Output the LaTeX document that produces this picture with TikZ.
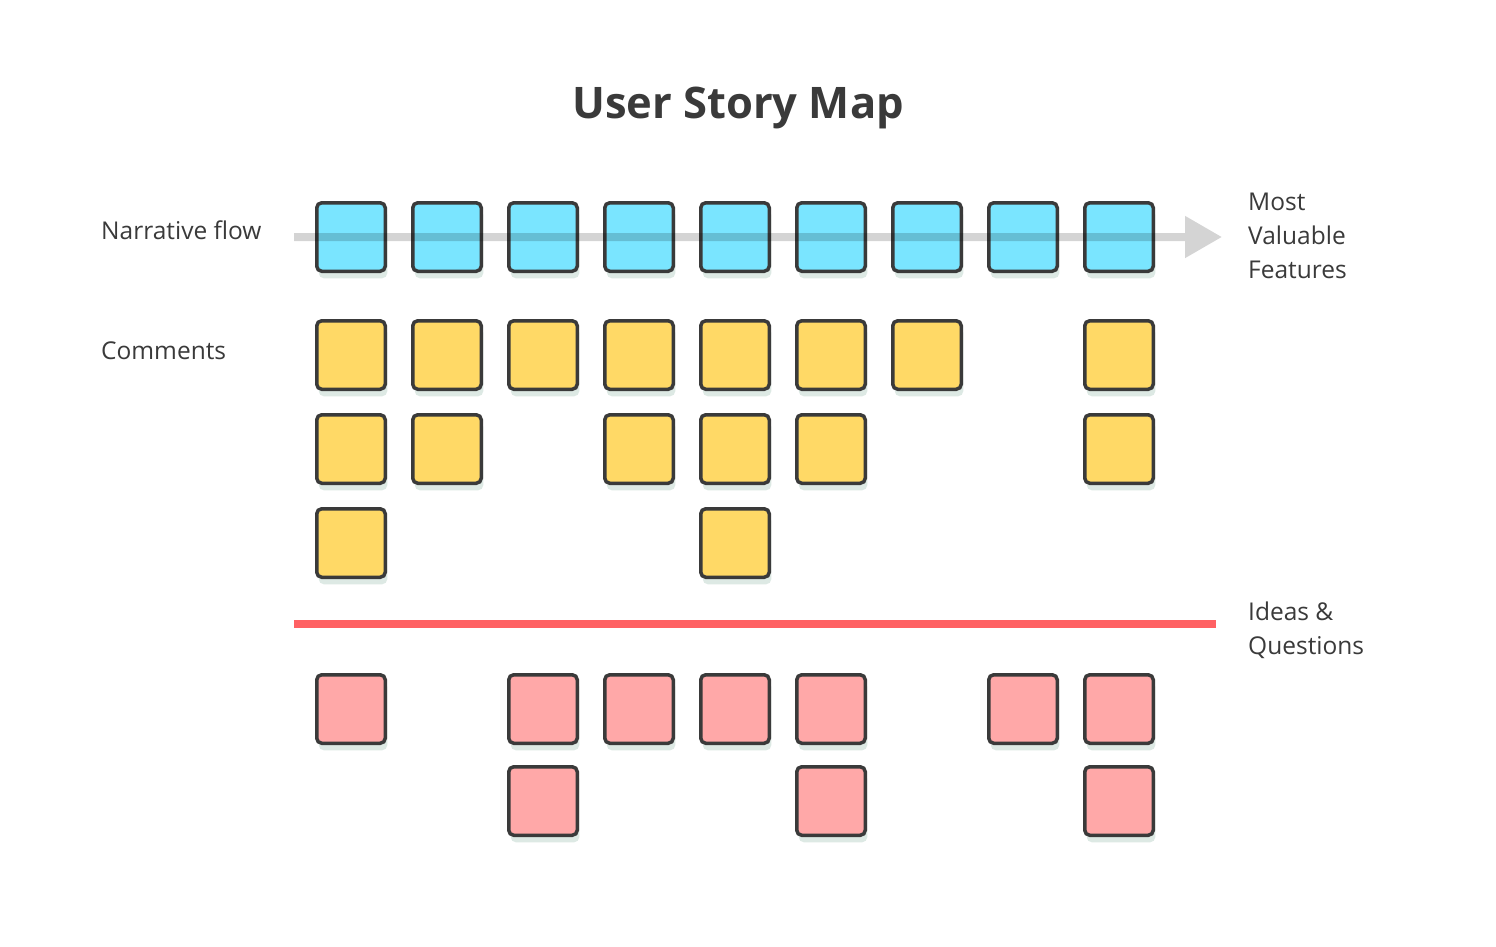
\documentclass[tikz,border=0pt]{standalone}
\usepackage{fontspec}
\setmainfont{Open Sans}
\usetikzlibrary{arrows.meta,positioning,shadows}
\definecolor{ink}{HTML}{3A3A3A}
\definecolor{storyblue}{HTML}{7AE5FF}
\definecolor{noteyellow}{HTML}{FFD966}
\definecolor{ideapink}{HTML}{FFA8A8}
\definecolor{shade}{HTML}{DDE9E4}
\definecolor{cutred}{HTML}{FF6163}

\begin{document}
\begin{tikzpicture}[x=1pt, y=-1pt,
  card/.style={draw=ink, line width=3.5pt, rounded corners=5pt,
    minimum size=68.5pt, inner sep=0pt,
    drop shadow={shadow xshift=2pt, shadow yshift=-7pt, opacity=1, fill=shade}},
  story/.style={card, fill=storyblue},
  comment/.style={card, fill=noteyellow},
  idea/.style={card, fill=ideapink},
  lbl/.style={text=ink, font=\fontsize{24.5}{34}\selectfont, anchor=base west,
    align=left, inner sep=0pt}]
  \useasboundingbox (0,0) rectangle (1496,946);
  \node[text=ink, font=\fontsize{43.5}{50}\selectfont\bfseries, anchor=base] (title) at (738,118) {User Story Map};

  % backbone, one card per step
  \foreach \i in {1,...,9}
    \node[story] (s\i) at ({351+96*(\i-1)},237) {};
  \coordinate (flow start) at (294,237);
  \coordinate (flow end) at (1222,237);
  \begin{scope}[transparency group, opacity=0.17]
    \draw[line width=8pt, black, -{Triangle[length=37pt, width=40pt]}] (flow start) -- (flow end);
  \end{scope}

  % comments under the steps
  \foreach \r/\cols/\y in {1/{1,2,3,4,5,6,7,9}/355, 2/{1,2,4,5,6,9}/449, 3/{1,5}/543}
    \foreach \i in \cols
      \node[comment] (c\r-\i) at ({351+96*(\i-1)},\y) {};

  \coordinate (cut start) at (294,624);
  \coordinate (cut end) at (1216,624);
  \draw[line width=8pt, cutred] (cut start) -- (cut end);

  % ideas and questions
  \foreach \r/\cols/\y in {1/{1,3,4,5,6,8,9}/709, 2/{3,6,9}/801}
    \foreach \i in \cols
      \node[idea] (q\r-\i) at ({351+96*(\i-1)},\y) {};

  % labels, anchored on the baseline of their last line
  \node[lbl] (flow label) at (101,239) {Narrative flow};
  \node[lbl] (comment label) at (101,359) {Comments};
  \node[lbl] (value label) at (1248,278) {Most\\Valuable\\Features};
  \node[lbl] (idea label) at (1248,654) {Ideas \&\\Questions};
\end{tikzpicture}
\end{document}
